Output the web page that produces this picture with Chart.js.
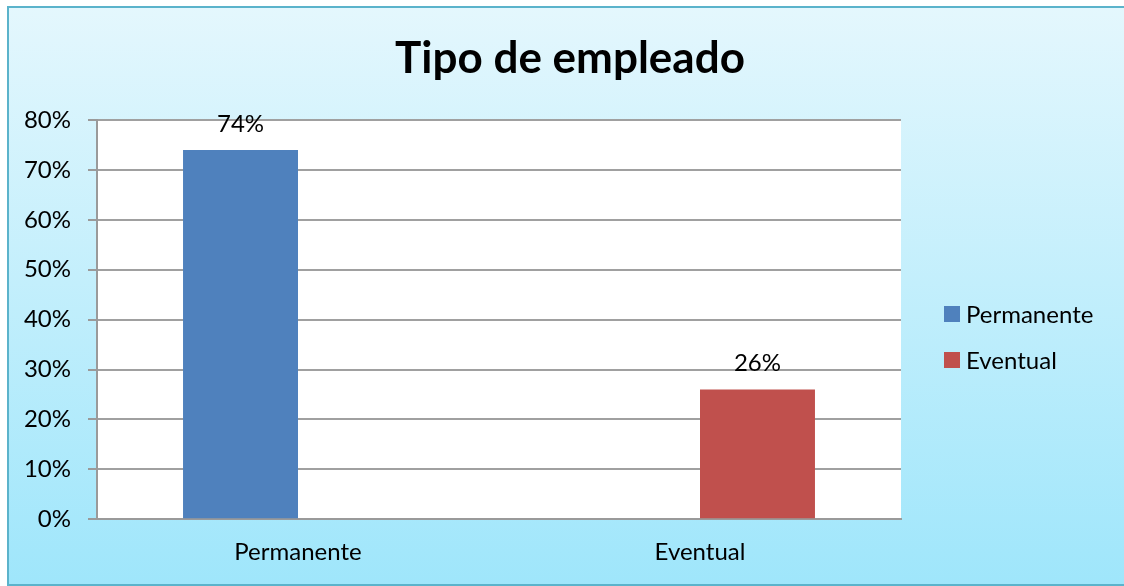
<!DOCTYPE html>
<html>
<head>
<meta charset="utf-8">
<script src="https://cdn.jsdelivr.net/npm/chart.js@4"></script>
<style>
  html, body { margin: 0; padding: 0; background: #fff; }
  #wrap { width: 1124px; height: 586px; }
</style>
</head>
<body>
<div id="wrap"><canvas id="myChart" width="1124" height="586"></canvas></div>
<script>
const chartTitle = 'Tipo de empleado';
const categories = ['Permanente', 'Eventual'];
const permanente = [0.74, null];
const eventual = [null, 0.26];
const seriesNames = ['Permanente', 'Eventual'];
const seriesColors = ['#4f81bd', '#c0504d'];
const yTicks = ['0%', '10%', '20%', '30%', '40%', '50%', '60%', '70%', '80%'];

const FONT = 'Lato, "Open Sans", sans-serif';

// frame, gradient and white plot area
const background = {
  id: 'background',
  beforeDraw(chart) {
    const ctx = chart.ctx;
    const w = chart.width, h = chart.height;
    ctx.save();
    ctx.fillStyle = '#ffffff';
    ctx.fillRect(0, 0, w, h);
    const g = ctx.createLinearGradient(0, 7, 0, 585);
    g.addColorStop(0, '#e4f7fd');
    g.addColorStop(1, '#9fe6fb');
    ctx.fillStyle = g;
    ctx.fillRect(8, 7, w - 8, 578);
    ctx.strokeStyle = '#5bb3cb';
    ctx.lineWidth = 2;
    ctx.strokeRect(8, 7, w + 10, 578);
    const a = chart.chartArea;
    ctx.fillStyle = '#ffffff';
    ctx.fillRect(a.left, a.top, a.right - a.left, a.bottom - a.top);
    ctx.restore();
  }
};

// value labels above the bars
const valueLabels = {
  id: 'valueLabels',
  afterDatasetsDraw(chart) {
    const ctx = chart.ctx;
    ctx.save();
    ctx.font = '24px ' + FONT;
    ctx.fillStyle = '#000';
    ctx.textAlign = 'center';
    ctx.textBaseline = 'middle';
    chart.data.datasets.forEach((ds, i) => {
      chart.getDatasetMeta(i).data.forEach((bar, j) => {
        const v = ds.data[j];
        if (v == null) return;
        ctx.fillText(Math.round(v * 100) + '%', bar.x, bar.y - 26);
      });
    });
    ctx.restore();
  }
};

// title across the whole frame, legend at the right
const titleAndLegend = {
  id: 'titleAndLegend',
  afterDraw(chart) {
    const ctx = chart.ctx;
    ctx.save();
    ctx.fillStyle = '#000';
    ctx.font = 'bold 44px ' + FONT;
    ctx.textAlign = 'center';
    ctx.textBaseline = 'alphabetic';
    ctx.fillText(chartTitle, 570, 73);

    ctx.font = '24px ' + FONT;
    ctx.textBaseline = 'middle';
    ctx.textAlign = 'left';
    chart.data.datasets.forEach((ds, i) => {
      const cy = 314 + i * 46;
      ctx.fillStyle = ds.backgroundColor;
      ctx.fillRect(944, cy - 8, 16, 16);
      ctx.fillStyle = '#000';
      ctx.fillText(ds.label, 966, cy + 1);
    });
    ctx.restore();
  }
};

const data = {
  labels: categories,
  datasets: [
    { label: seriesNames[0], data: permanente, backgroundColor: seriesColors[0] },
    { label: seriesNames[1], data: eventual, backgroundColor: seriesColors[1] }
  ]
};

const config = {
  type: 'bar',
  data: data,
  options: {
    responsive: false,
    animation: false,
    datasets: { bar: { barPercentage: 1, categoryPercentage: 0.572 } },
    layout: { padding: { top: 120, left: 0, right: 223, bottom: 0 } },
    plugins: {
      legend: { display: false },
      tooltip: { enabled: false },
      title: { display: false }
    },
    scales: {
      x: {
        grid: { display: false, drawTicks: false },
        border: { display: true, color: '#9a9a9a', width: 2 },
        ticks: { color: '#000', font: { family: FONT, size: 24 }, padding: 19 }
      },
      y: {
        min: 0,
        max: 0.8,
        afterFit(scale) { scale.width = 97; },
        grid: { color: '#a0a0a0', lineWidth: 2, tickLength: 9, tickColor: '#9a9a9a' },
        border: { display: true, color: '#9a9a9a', width: 2 },
        ticks: {
          stepSize: 0.1,
          color: '#000',
          padding: 17,
          font: { family: FONT, size: 24 },
          callback: (v, i) => yTicks[i]
        }
      }
    }
  },
  plugins: [background, valueLabels, titleAndLegend]
};

const myChart = new Chart(document.getElementById('myChart'), config);
</script>
</body>
</html>
